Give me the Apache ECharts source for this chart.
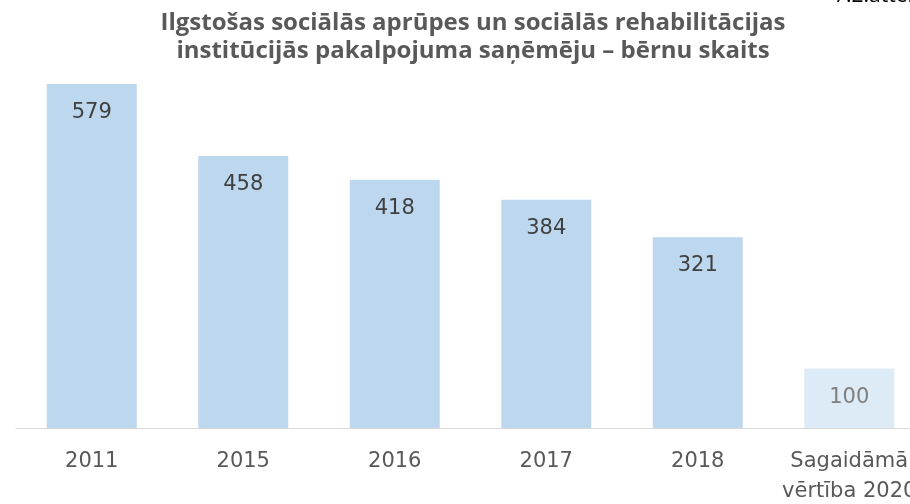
<!DOCTYPE html>
<html>
<head>
<meta charset="utf-8">
<script src="https://cdn.jsdelivr.net/npm/echarts@6/dist/echarts.min.js"></script>
<style>
  html, body { margin: 0; padding: 0; background: #fff; }
  #chart { width: 910px; height: 504px; }
</style>
</head>
<body>
<div id="chart"></div>
<script>
// Bērnu skaits ilgstošas sociālās aprūpes un rehabilitācijas institūcijās
const categories = ['2011', '2015', '2016', '2017', '2018', 'Sagaidāmā\nvērtība 2020'];
const values = [579, 458, 418, 384, 321, 100];
const figureLabel = '7.2.attēls';
const titleText = 'Ilgstošas sociālās aprūpes un sociālās rehabilitācijas\ninstitūcijās pakalpojuma saņēmēju – bērnu skaits';

// the last column is the expected (target) value and is drawn paler
const targetIndex = values.length - 1;

const seriesData = values.map((v, i) => {
  if (i !== targetIndex) return v;
  return {
    value: v,
    itemStyle: { color: '#DDEBF7' },
    label: { color: '#7F7F7F' }
  };
});

const chart = echarts.init(document.getElementById('chart'), null, { renderer: 'canvas' });

chart.setOption({
  animation: false,
  backgroundColor: '#ffffff',
  title: [
    {
      text: titleText,
      left: 468,
      textAlign: 'center',
      top: 4,
      textStyle: {
        fontFamily: 'Open Sans',
        fontWeight: 'bold',
        fontSize: 24,
        lineHeight: 28,
        color: '#595959'
      }
    },
    {
      text: figureLabel,
      left: 829,
      top: -19,
      textStyle: {
        fontFamily: 'Open Sans',
        fontWeight: 'normal',
        fontSize: 21,
        color: '#000000'
      }
    }
  ],
  grid: {
    left: 16,
    top: 84,
    width: 909,
    height: 344,
    containLabel: false,
    outerBoundsMode: 'none'
  },
  xAxis: {
    type: 'category',
    data: categories,
    axisTick: { show: false },
    axisLine: { lineStyle: { color: '#D9D9D9', width: 1 } },
    axisLabel: {
      interval: 0,
      margin: 19,
      fontFamily: 'DejaVu Sans',
      fontSize: 21,
      lineHeight: 30,
      color: '#595959'
    }
  },
  yAxis: {
    type: 'value',
    min: 0,
    max: 579,
    show: false,
    splitLine: { show: false }
  },
  series: [
    {
      type: 'bar',
      data: seriesData,
      barWidth: 90,
      itemStyle: { color: '#BDD7EE' },
      label: {
        show: true,
        position: 'insideTop',
        distance: 18,
        fontFamily: 'DejaVu Sans',
        fontSize: 21,
        color: '#404040'
      }
    }
  ]
});
</script>
</body>
</html>
